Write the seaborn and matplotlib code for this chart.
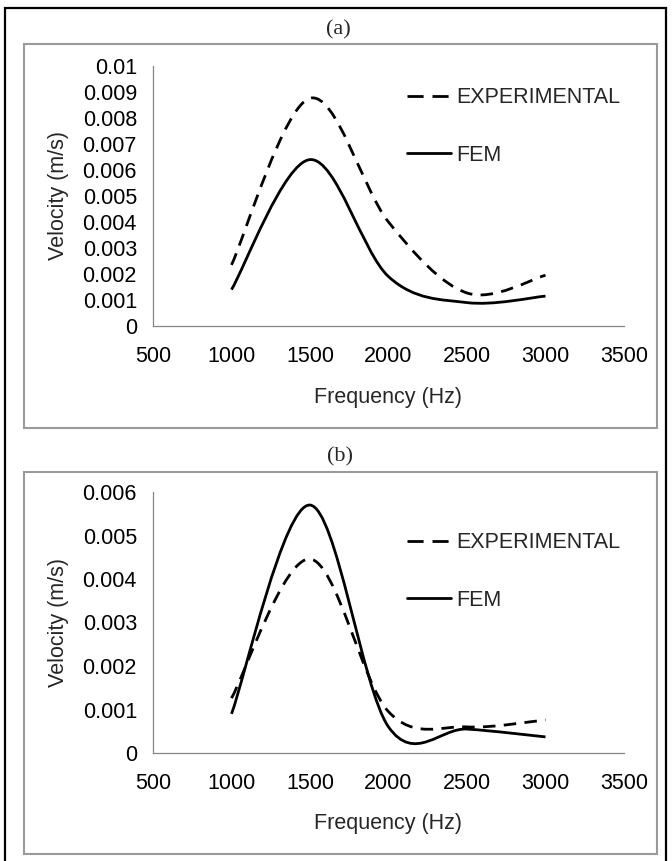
import numpy as np
import pandas as pd
import matplotlib
matplotlib.use("Agg")
import matplotlib.pyplot as plt
from matplotlib.path import Path
from matplotlib.patches import PathPatch, Rectangle
from matplotlib.lines import Line2D
import seaborn as sns

# ---------------- data ----------------
frequency = [1000, 1500, 2000, 2500, 3000]
exp_a = [0.00235, 0.00876, 0.0040, 0.00127, 0.00195]
fem_a = [0.0014, 0.0064, 0.0019, 0.0009, 0.00115]
exp_b = [0.00126, 0.00446, 0.00095, 0.0006, 0.00076]
fem_b = [0.0009, 0.0057, 0.0006, 0.00055, 0.00037]
panel_titles = ["(a)", "(b)"]
series_labels = ["EXPERIMENTAL", "FEM"]
xticks = [500, 1000, 1500, 2000, 2500, 3000, 3500]
yticks_a = [0, 0.001, 0.002, 0.003, 0.004, 0.005, 0.006, 0.007, 0.008, 0.009, 0.01]
ytick_labels_a = ["0", "0.001", "0.002", "0.003", "0.004", "0.005", "0.006",
                  "0.007", "0.008", "0.009", "0.01"]
yticks_b = [0, 0.001, 0.002, 0.003, 0.004, 0.005, 0.006]
ytick_labels_b = ["0", "0.001", "0.002", "0.003", "0.004", "0.005", "0.006"]
xlabel = "Frequency (Hz)"
ylabel = "Velocity (m/s)"

sns.set_theme(style="white")
plt.rcParams["font.family"] = ["Liberation Sans", "DejaVu Sans"]

W, H = 672, 861
fig = plt.figure(figsize=(W / 100, H / 100), dpi=100)

FS = 15.5
GRAY = "#868686"


def smooth_path(xs, ys):
    """Excel-style smoothed line: cubic Bezier segments through the data points."""
    P = np.column_stack([xs, ys]).astype(float)
    n = len(P)
    verts = [P[0]]
    codes = [Path.MOVETO]
    for i in range(n - 1):
        p_prev = P[i - 1] if i > 0 else P[i]
        p_next2 = P[i + 2] if i + 2 < n else P[i + 1]
        c1 = P[i] + (P[i + 1] - p_prev) / 6.0
        c2 = P[i + 1] - (p_next2 - P[i]) / 6.0
        verts += [c1, c2, P[i + 1]]
        codes += [Path.CURVE4] * 3
    return Path(np.array(verts), codes)


DASH = (0, (4.5, 3.0))
LEG_DASH = (0, (5.8, 3.2))
LW = 2.0


def draw_panel(rect, exp, fem, ylim, yticks, yticklabels, leg_y, xlab_y):
    ax = fig.add_axes(rect)
    ax.set_xlim(500, 3500)
    ax.set_ylim(*ylim)
    ax.add_patch(PathPatch(smooth_path(frequency, exp), fill=False,
                           edgecolor="black", lw=LW, linestyle=DASH,
                           capstyle="butt"))
    ax.add_patch(PathPatch(smooth_path(frequency, fem), fill=False,
                           edgecolor="black", lw=LW, linestyle="-"))
    sns.despine(ax=ax)
    for s in ["left", "bottom"]:
        ax.spines[s].set_color(GRAY)
        ax.spines[s].set_linewidth(0.9)
    ax.set_xticks(xticks)
    ax.set_xticklabels([str(t) for t in xticks])
    ax.set_yticks(yticks)
    ax.set_yticklabels(yticklabels)
    ax.tick_params(axis="both", direction="out", length=3.6, width=0.8,
                   color=GRAY, labelcolor="black", labelsize=FS)
    ax.tick_params(axis="y", pad=8)
    ax.tick_params(axis="x", pad=11)
    ax.set_xlabel(xlabel, fontsize=FS)
    ax.set_ylabel(ylabel, fontsize=FS)
    ax.xaxis.set_label_coords(0.5, xlab_y)
    ax.yaxis.set_label_coords(-0.178, 0.5)
    handles = [Line2D([], [], color="black", lw=LW, linestyle=LEG_DASH,
                      dash_capstyle="butt"),
               Line2D([], [], color="black", lw=LW, linestyle="-")]
    ax.legend(handles, series_labels, loc="upper left",
              bbox_to_anchor=(0.539, leg_y), frameon=False, fontsize=FS,
              handlelength=2.05, handletextpad=0.25, labelspacing=1.7,
              borderpad=0, borderaxespad=0)
    ax.patch.set_alpha(0)
    return ax


ax_a = draw_panel([153 / W, 1 - 326 / H, 471 / W, 260 / H], exp_a, fem_a,
                  (0, 0.01), yticks_a, ytick_labels_a, 0.918, -0.235)
ax_b = draw_panel([153 / W, 1 - 753 / H, 471 / W, 261 / H], exp_b, fem_b,
                  (0, 0.006), yticks_b, ytick_labels_b, 0.846, -0.228)

# panel frames (gray) and outer frame (black)
fig.patches.append(Rectangle((24 / W, 1 - 428 / H), 633 / W, 384 / H,
                             transform=fig.transFigure, fill=False,
                             edgecolor="#9a9a9a", lw=1.5, zorder=0))
fig.patches.append(Rectangle((24 / W, 1 - 854 / H), 633 / W, 382 / H,
                             transform=fig.transFigure, fill=False,
                             edgecolor="#9a9a9a", lw=1.5, zorder=0))
fig.patches.append(Rectangle((5 / W, -0.05), 661 / W, 1.05 - 8 / H,
                             transform=fig.transFigure, fill=False,
                             edgecolor="black", lw=1.6, zorder=0))

fig.text(338 / W, 1 - 30 / H, panel_titles[0], ha="center", va="center",
         fontsize=16, family=["Liberation Serif", "DejaVu Serif"])
fig.text(340 / W, 1 - 457 / H, panel_titles[1], ha="center", va="center",
         fontsize=16, family=["Liberation Serif", "DejaVu Serif"])

fig.savefig("out.png", dpi=100)
